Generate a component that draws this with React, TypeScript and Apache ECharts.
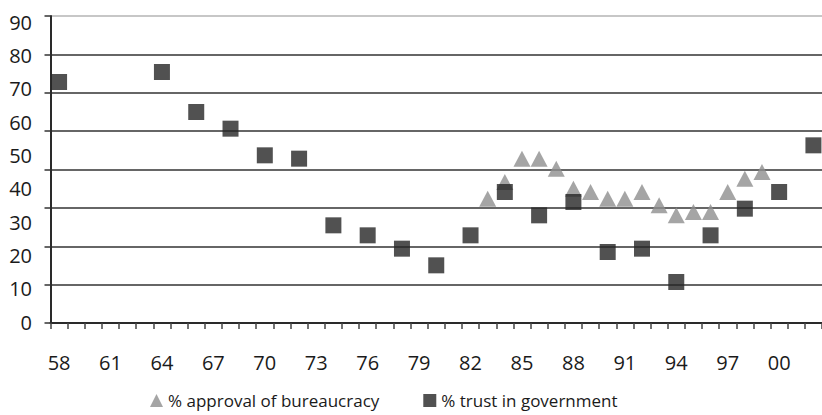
import React, { useEffect, useRef } from "react";
import * as echarts from "echarts";

// Years shown on the category axis (1958–2002)
const years = [
  "58", "59", "60", "61", "62", "63", "64", "65", "66", "67",
  "68", "69", "70", "71", "72", "73", "74", "75", "76", "77",
  "78", "79", "80", "81", "82", "83", "84", "85", "86", "87",
  "88", "89", "90", "91", "92", "93", "94", "95", "96", "97",
  "98", "99", "00", "01", "02",
];

// % approval of bureaucracy
const approvalYears = ["83", "84", "85", "86", "87", "88", "89", "90", "91", "92", "93", "94", "95", "96", "97", "98", "99"];
const approvalValues = [37, 42, 49, 49, 46, 40, 39, 37, 37, 39, 35, 32, 33, 33, 39, 43, 45];

// % trust in government
const trustYears = ["58", "64", "66", "68", "70", "72", "74", "76", "78", "80", "82", "84", "86", "88", "90", "92", "94", "96", "98", "00", "02"];
const trustValues = [72, 75, 63, 58, 50, 49, 29, 26, 22, 17, 26, 39, 32, 36, 21, 22, 12, 26, 34, 39, 53];

const FONT = "'Open Sans', 'DejaVu Sans', sans-serif";

export default function App() {
  const ref = useRef<HTMLDivElement>(null);

  useEffect(() => {
    if (!ref.current) return;
    const chart = echarts.init(ref.current, undefined, { renderer: "svg" });
    const left = 50.5;
    const width = 45 * 17.25;
    const gridColors = ["#333", "#333", "#333", "#333", "#333", "#333", "#333", "#333", "#b5b5b5"];
    chart.setOption({
      animation: false,
      backgroundColor: "#ffffff",
      grid: [
        { left, top: 16, width, height: 307, containLabel: false },
        { left, top: 22, width, height: 300, containLabel: false },
      ],
      xAxis: [
        {
          gridIndex: 0,
          type: "category",
          data: years,
          boundaryGap: true,
          axisLine: { lineStyle: { color: "#2a2a2a", width: 2 } },
          axisTick: { show: true, inside: false, interval: 0, length: 6, lineStyle: { color: "#444", width: 1.5 } },
          axisLabel: {
            interval: 2,
            fontSize: 20,
            fontFamily: FONT,
            color: "#1a1a1a",
            margin: 29,
          },
          splitLine: { show: false },
        },
        { gridIndex: 1, type: "category", data: years, boundaryGap: true, show: false },
      ],
      yAxis: [
        {
          gridIndex: 0,
          type: "value",
          min: 0,
          max: 8,
          interval: 1,
          axisLine: { show: true, lineStyle: { color: "#2a2a2a", width: 2 } },
          axisTick: { show: true, inside: false, length: 6, lineStyle: { color: "#333", width: 1.5 } },
          axisLabel: { show: false },
          splitLine: { show: true, lineStyle: { color: gridColors, width: 1.6 } },
        },
        {
          gridIndex: 1,
          type: "value",
          min: 0,
          max: 90,
          interval: 10,
          axisLine: { show: false },
          axisTick: { show: false },
          splitLine: { show: false },
          axisLabel: {
            fontSize: 20,
            fontFamily: FONT,
            color: "#1a1a1a",
            margin: 18.5,
          },
        },
      ],
      legend: {
        left: 150,
        top: 392,
        itemWidth: 13,
        itemHeight: 13,
        itemGap: 44,
        padding: 0,
        textStyle: { fontSize: 17, fontFamily: FONT, color: "#1a1a1a" },
        data: [
          { name: "% approval of bureaucracy", icon: "triangle" },
          { name: "% trust in government", icon: "rect" },
        ],
      },
      series: [
        {
          name: "% approval of bureaucracy",
          type: "scatter",
          xAxisIndex: 1,
          yAxisIndex: 1,
          symbol: "triangle",
          symbolSize: [17, 16],
          itemStyle: { color: "#8e8e8e" },
          data: approvalYears.map((y, i) => [y, approvalValues[i]]),
        },
        {
          name: "% trust in government",
          type: "scatter",
          xAxisIndex: 1,
          yAxisIndex: 1,
          symbol: "rect",
          symbolSize: 16,
          itemStyle: { color: "#262626" },
          data: trustYears.map((y, i) => [y, trustValues[i]]),
        },
      ],
    });
    return () => chart.dispose();
  }, []);

  return (
    <div
      ref={ref}
      style={{ position: "fixed", left: 0, top: 0, width: 822, height: 415, background: "#fff" }}
    />
  );
}
